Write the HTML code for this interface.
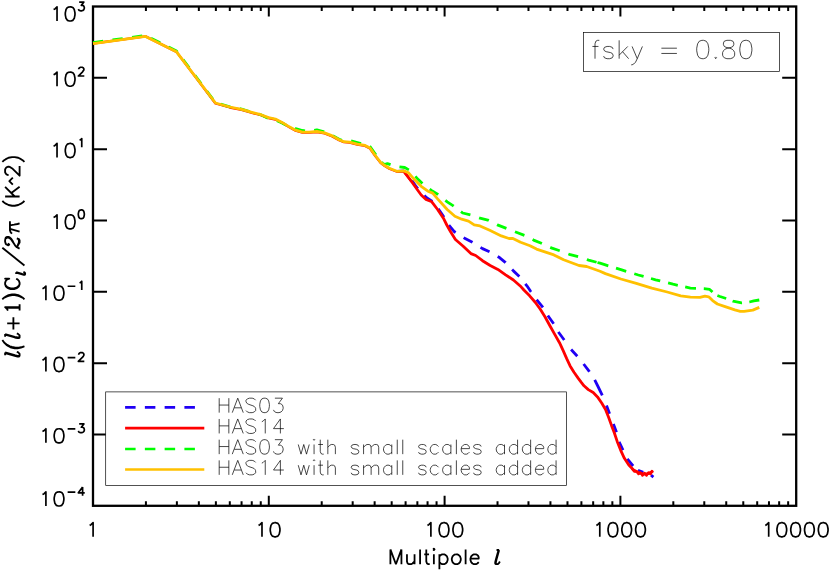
<!DOCTYPE html>
<html><head><meta charset="utf-8"><title>Power spectrum</title>
<style>html,body{margin:0;padding:0;background:#fff;overflow:hidden;width:830px;height:570px;font-family:"Liberation Sans",sans-serif}svg{display:block;position:absolute;left:0;top:0}</style></head>
<body>
<svg width="830" height="570" viewBox="0 0 830 570" role="img" aria-label="Power spectrum plot">
<rect width="830" height="570" fill="#fff"/>
<path d="M145.92 505.8v-4.6M145.92 6.5v4.6M176.88 505.8v-4.6M176.88 6.5v4.6M198.84 505.8v-4.6M198.84 6.5v4.6M215.88 505.8v-4.6M215.88 6.5v4.6M229.8 505.8v-4.6M229.8 6.5v4.6M241.57 505.8v-4.6M241.57 6.5v4.6M251.76 505.8v-4.6M251.76 6.5v4.6M260.76 505.8v-4.6M260.76 6.5v4.6M268.8 505.8v-10M268.8 6.5v10M321.72 505.8v-4.6M321.72 6.5v4.6M352.68 505.8v-4.6M352.68 6.5v4.6M374.64 505.8v-4.6M374.64 6.5v4.6M391.68 505.8v-4.6M391.68 6.5v4.6M405.6 505.8v-4.6M405.6 6.5v4.6M417.37 505.8v-4.6M417.37 6.5v4.6M427.56 505.8v-4.6M427.56 6.5v4.6M436.56 505.8v-4.6M436.56 6.5v4.6M444.6 505.8v-10M444.6 6.5v10M497.52 505.8v-4.6M497.52 6.5v4.6M528.48 505.8v-4.6M528.48 6.5v4.6M550.44 505.8v-4.6M550.44 6.5v4.6M567.48 505.8v-4.6M567.48 6.5v4.6M581.4 505.8v-4.6M581.4 6.5v4.6M593.17 505.8v-4.6M593.17 6.5v4.6M603.36 505.8v-4.6M603.36 6.5v4.6M612.36 505.8v-4.6M612.36 6.5v4.6M620.4 505.8v-10M620.4 6.5v10M673.32 505.8v-4.6M673.32 6.5v4.6M704.28 505.8v-4.6M704.28 6.5v4.6M726.24 505.8v-4.6M726.24 6.5v4.6M743.28 505.8v-4.6M743.28 6.5v4.6M757.2 505.8v-4.6M757.2 6.5v4.6M768.97 505.8v-4.6M768.97 6.5v4.6M779.16 505.8v-4.6M779.16 6.5v4.6M788.16 505.8v-4.6M788.16 6.5v4.6M93 77.83h14M796.2 77.83h-14M93 149.16h14M796.2 149.16h-14M93 220.49h14M796.2 220.49h-14M93 291.81h14M796.2 291.81h-14M93 363.14h14M796.2 363.14h-14M93 434.47h14M796.2 434.47h-14" stroke="#000" stroke-width="2" fill="none"/>
<rect x="93" y="6.5" width="703.2" height="499.3" fill="none" stroke="#000" stroke-width="2.3"/>
<path d="M397 171.3 L403.8 170.9 L411 179 L416 186.5 L421.5 193 L427 198 L432.5 201.5 L439.5 210.5 L443.4 216.3 L448.7 225 L454.5 231.8 L465.1 238.5 L471.9 242 L482.5 248.6 L490.2 252 L499.8 257.8 L505.6 262.6 L513.4 270.9 L520.1 277.1 L526.9 285.8 L530.6 291.2 L537.4 300.6 L543.65 308.3 L548.5 316.5 L554.75 325.2 L559.1 332.95 L564.8 340.8 L567.84 345" fill="none" stroke="#2000f4" stroke-width="2.8" stroke-linejoin="round" stroke-linecap="butt" stroke-dasharray="10 9.5"/>
<path d="M567.84 345 L571.1 349.5 L577.3 356.2 L583.6 364 L589.4 371.7 L594.7 379.9 L598.5 387.5 L602.3 395.4 L606.5 405.6 L609.6 413.8 L613.4 423.9 L616.5 432.2 L619.1 441.9 L623 450.1 L627.3 458.8 L633.1 466 L638 470.4 L643.3 472.3 L651 475.2 L653.4 477.1" fill="none" stroke="#2000f4" stroke-width="2.8" stroke-linejoin="round" stroke-linecap="butt" stroke-dasharray="0 5.56 9.13 10.03 9.64 9.76 17.26 11.03 8.77 10.79 8.86 10.04 9.08 9.7 9.25 6.59 5.63 8.23 3.06 50"/>
<path d="M93 43.55 L145.6 36.4 L176.5 51.85 L215.5 103.45 L229.8 107.45 L241.6 109.75 L251.2 112.65 L260.9 115.15 L268.6 118.05 L275.4 119.45 L282.1 122.85 L289.8 127.55 L295.6 130.65 L302.4 132.55 L309.2 132.55 L316.9 131.95 L324.6 133.35 L332.3 136.35 L339.1 140.25 L343.9 142.15 L349.7 142.55 L357.4 144.55 L365.1 145.85 L370 148.45 L375.3 155.95 L380.6 162.75 L384.4 165.75 L389.3 168.65 L397 171.75 L403.8 171.35 L411.5 181.5" fill="none" stroke="#ff0000" stroke-width="2.4" stroke-linejoin="round" stroke-linecap="butt"/>
<path d="M403.8 171.35 L411.5 181.5 L416.3 188.3 L421.2 195 L426 199.5 L431.8 201.8 L437.6 209.5 L443.4 218.2 L446.8 225 L450.6 231.8 L455.4 239.5 L463.2 246.2 L470.9 253.6 L475.7 255.5 L482.5 260.7 L490.2 265.5 L497.9 269.4 L505.6 274.8 L513.4 280 L521.1 286.8 L523.9 290 L529.65 295.8 L535.4 302.5 L540.3 309.3 L545.1 317 L549.9 325.7 L554.75 334.4 L559.5 342.7 L563.3 350.9 L566.7 358.65 L570.1 365.9 L574 372.2 L578.3 378.4 L581.3 382.4 L584 385.8 L588.3 389.65 L593.2 392.5 L597.5 396.9 L601.85 403.2 L605.7 409.9 L608.6 417.2 L611.5 425.4 L614.3 432.7 L617.2 441.4 L620.6 450.1 L624.4 458.3 L628.8 465.1 L633.6 469.9 L638.9 472.8 L644.2 474.2 L648.1 473.7 L652.9 471.3" fill="none" stroke="#ff0000" stroke-width="2.8" stroke-linejoin="round" stroke-linecap="butt"/>
<path d="M632 468.8 L634.5 471.6 L636.5 471.2 L638.5 474 L640.5 472.4 L642.5 475.6 L644.5 473 L646.5 475.6 L648.5 472.4 L650.5 474.2 L652 471 L653 472.3" fill="none" stroke="#ff0000" stroke-width="2.4" stroke-linejoin="round" stroke-linecap="butt"/>
<path d="M93 42.6 L145.6 35.52 L176.5 51 L215.5 102.65 L229.8 106.8 L241.6 109.1 L251.2 112 L260.9 114.75 L268.6 118.5 L275.4 119.9 L282.1 122.97 L289.8 127.1 L295.6 128.6 L302.4 130.5 L309.2 131.6 L316.9 129.9 L324.6 131.89 L332.3 135.4 L339.1 139.3 L343.9 141.2 L349.7 140.61 L357.4 142.5 L365.1 144.9 L370 146.5 L375.3 154.11 L380.6 161.5 L383 163.39" fill="none" stroke="#00ff00" stroke-width="2.8" stroke-linejoin="round" stroke-linecap="butt" stroke-dasharray="10.3 9.4"/>
<path d="M383 163.39 L384.4 164.5 L387.4 163.6 L396 166.5 L404.7 167.5 L410 170.5 L418.3 179.6 L425 186 L431.8 190.6 L438 194.5 L447.2 201.8 L453 205.6 L462.7 213 L470.4 214.9 L480 218.2 L487.8 220.1 L497.4 224.9 L506.6 228.5 L516.3 232.3 L525 235.6 L533.6 240.1 L541.4 243.3 L552 248.2 L560.7 251.1 L569.3 254.3 L579 256.9 L588.6 260.1 L597.5 262.52" fill="none" stroke="#00ff00" stroke-width="2.8" stroke-linejoin="round" stroke-linecap="butt" stroke-dasharray="10.1 9.2" stroke-dashoffset="1.84"/>
<path d="M597.5 262.52 L600 263.2 L605.4 264.9 L620.9 269.7 L638.3 275 L655.6 279.8 L673 284.2 L690.4 288.1 L703.9 288.7 L709.7 289.4 L715.5 294.8 L720 296.5 L726.3 298.5 L733 301.1 L741.7 302.8 L749.4 302 L753.8 300.9 L759.3 300" fill="none" stroke="#00ff00" stroke-width="2.8" stroke-linejoin="round" stroke-linecap="butt" stroke-dasharray="11.29 8.06 10.67 8.47 9.68 7.68 9.52 8.15 9.97 7.58 10.93 7.81 9.77 6.13 9.28 6.86 9.6 7.44 10.11 50"/>
<path d="M93 43.55 L145.6 36.4 L176.5 51.85 L215.5 103 L229.8 107 L241.6 109.3 L251.2 112.2 L260.9 114.7 L268.6 117.6 L275.4 119 L282.1 122.4 L289.8 127.1 L295.6 130.2 L302.4 132.1 L309.2 132.1 L316.9 131.5 L324.6 132.9 L332.3 135.9 L339.1 139.8 L343.9 141.7 L349.7 142.1 L357.4 144.1 L365.1 145.4 L370 148 L375.3 155.5 L380.6 162.3 L384.4 165.3 L389.3 168.2 L397 171.3 L403.8 170.9 L408.6 172.8 L414.4 179.6 L421.2 186.3 L427.9 191.2 L432.7 193.1 L437.6 198.9 L447.2 209.5 L454.9 216.3 L461.7 219.2 L468.5 221.1 L474.2 224.9 L480 225.9 L489.7 230.3 L501.3 235.9 L509 238.5 L512.9 238.5 L520.6 242.3 L530 245.8 L536.5 249.1 L553.9 254.9 L563.6 259.7 L579 265.5 L586.7 266.5 L600 271.3 L605.4 273.6 L620.9 279 L636.3 283.3 L651.8 288.1 L667.2 292 L680.7 295.8 L690.4 297.2 L700 297.4 L704.9 296.2 L708.7 296.8 L712.6 300.6 L717.4 304 L725.1 306.6 L729.65 308.1 L734.8 309.9 L740.3 311.3 L744.1 311.3 L752.8 310.1 L759.3 307.4" fill="none" stroke="#ffc000" stroke-width="2.8" stroke-linejoin="round" stroke-linecap="butt"/>
<path transform="translate(92.4 536.8) translate(-6.9 0)" d="M4.14 -11.42L5.52 -12.1L7.59 -14.11L7.59 0" fill="none" stroke="#000" stroke-width="1.7" stroke-linejoin="round" stroke-linecap="butt"/>
<path transform="translate(268.2 536.8) translate(-13.8 0)" d="M4.14 -11.42L5.52 -12.1L7.59 -14.11L7.59 0M20.01 -14.11L17.94 -13.44L16.56 -11.42L15.87 -8.06L15.87 -6.05L16.56 -2.69L17.94 -0.67L20.01 0L21.39 0L23.46 -0.67L24.84 -2.69L25.53 -6.05L25.53 -8.06L24.84 -11.42L23.46 -13.44L21.39 -14.11L20.01 -14.11" fill="none" stroke="#000" stroke-width="1.7" stroke-linejoin="round" stroke-linecap="butt"/>
<path transform="translate(444 536.8) translate(-20.7 0)" d="M4.14 -11.42L5.52 -12.1L7.59 -14.11L7.59 0M20.01 -14.11L17.94 -13.44L16.56 -11.42L15.87 -8.06L15.87 -6.05L16.56 -2.69L17.94 -0.67L20.01 0L21.39 0L23.46 -0.67L24.84 -2.69L25.53 -6.05L25.53 -8.06L24.84 -11.42L23.46 -13.44L21.39 -14.11L20.01 -14.11M33.81 -14.11L31.74 -13.44L30.36 -11.42L29.67 -8.06L29.67 -6.05L30.36 -2.69L31.74 -0.67L33.81 0L35.19 0L37.26 -0.67L38.64 -2.69L39.33 -6.05L39.33 -8.06L38.64 -11.42L37.26 -13.44L35.19 -14.11L33.81 -14.11" fill="none" stroke="#000" stroke-width="1.7" stroke-linejoin="round" stroke-linecap="butt"/>
<path transform="translate(619.8 536.8) translate(-27.6 0)" d="M4.14 -11.42L5.52 -12.1L7.59 -14.11L7.59 0M20.01 -14.11L17.94 -13.44L16.56 -11.42L15.87 -8.06L15.87 -6.05L16.56 -2.69L17.94 -0.67L20.01 0L21.39 0L23.46 -0.67L24.84 -2.69L25.53 -6.05L25.53 -8.06L24.84 -11.42L23.46 -13.44L21.39 -14.11L20.01 -14.11M33.81 -14.11L31.74 -13.44L30.36 -11.42L29.67 -8.06L29.67 -6.05L30.36 -2.69L31.74 -0.67L33.81 0L35.19 0L37.26 -0.67L38.64 -2.69L39.33 -6.05L39.33 -8.06L38.64 -11.42L37.26 -13.44L35.19 -14.11L33.81 -14.11M47.61 -14.11L45.54 -13.44L44.16 -11.42L43.47 -8.06L43.47 -6.05L44.16 -2.69L45.54 -0.67L47.61 0L48.99 0L51.06 -0.67L52.44 -2.69L53.13 -6.05L53.13 -8.06L52.44 -11.42L51.06 -13.44L48.99 -14.11L47.61 -14.11" fill="none" stroke="#000" stroke-width="1.7" stroke-linejoin="round" stroke-linecap="butt"/>
<path transform="translate(795.6 536.8) translate(-34.5 0)" d="M4.14 -11.42L5.52 -12.1L7.59 -14.11L7.59 0M20.01 -14.11L17.94 -13.44L16.56 -11.42L15.87 -8.06L15.87 -6.05L16.56 -2.69L17.94 -0.67L20.01 0L21.39 0L23.46 -0.67L24.84 -2.69L25.53 -6.05L25.53 -8.06L24.84 -11.42L23.46 -13.44L21.39 -14.11L20.01 -14.11M33.81 -14.11L31.74 -13.44L30.36 -11.42L29.67 -8.06L29.67 -6.05L30.36 -2.69L31.74 -0.67L33.81 0L35.19 0L37.26 -0.67L38.64 -2.69L39.33 -6.05L39.33 -8.06L38.64 -11.42L37.26 -13.44L35.19 -14.11L33.81 -14.11M47.61 -14.11L45.54 -13.44L44.16 -11.42L43.47 -8.06L43.47 -6.05L44.16 -2.69L45.54 -0.67L47.61 0L48.99 0L51.06 -0.67L52.44 -2.69L53.13 -6.05L53.13 -8.06L52.44 -11.42L51.06 -13.44L48.99 -14.11L47.61 -14.11M61.41 -14.11L59.34 -13.44L57.96 -11.42L57.27 -8.06L57.27 -6.05L57.96 -2.69L59.34 -0.67L61.41 0L62.79 0L64.86 -0.67L66.24 -2.69L66.93 -6.05L66.93 -8.06L66.24 -11.42L64.86 -13.44L62.79 -14.11L61.41 -14.11" fill="none" stroke="#000" stroke-width="1.7" stroke-linejoin="round" stroke-linecap="butt"/>
<path transform="translate(85.6 21) translate(-36.16 0)" d="M4.14 -11.42L5.52 -12.1L7.59 -14.11L7.59 0M20.01 -14.11L17.94 -13.44L16.56 -11.42L15.87 -8.06L15.87 -6.05L16.56 -2.69L17.94 -0.67L20.01 0L21.39 0L23.46 -0.67L24.84 -2.69L25.53 -6.05L25.53 -8.06L24.84 -11.42L23.46 -13.44L21.39 -14.11L20.01 -14.11M29.74 -18.96L34.44 -18.96L31.88 -15.63L33.16 -15.63L34.02 -15.21L34.44 -14.8L34.87 -13.55L34.87 -12.71L34.44 -11.46L33.59 -10.63L32.31 -10.21L31.02 -10.21L29.74 -10.63L29.31 -11.05L28.88 -11.88" fill="none" stroke="#000" stroke-width="1.7" stroke-linejoin="round" stroke-linecap="butt"/>
<path transform="translate(85.6 86.23) translate(-36.16 0)" d="M4.14 -11.42L5.52 -12.1L7.59 -14.11L7.59 0M20.01 -14.11L17.94 -13.44L16.56 -11.42L15.87 -8.06L15.87 -6.05L16.56 -2.69L17.94 -0.67L20.01 0L21.39 0L23.46 -0.67L24.84 -2.69L25.53 -6.05L25.53 -8.06L24.84 -11.42L23.46 -13.44L21.39 -14.11L20.01 -14.11M29.31 -16.88L29.31 -17.3L29.74 -18.13L30.17 -18.55L31.02 -18.96L32.73 -18.96L33.59 -18.55L34.02 -18.13L34.44 -17.3L34.44 -16.46L34.02 -15.63L33.16 -14.38L28.88 -10.21L34.87 -10.21" fill="none" stroke="#000" stroke-width="1.7" stroke-linejoin="round" stroke-linecap="butt"/>
<path transform="translate(85.6 157.56) translate(-36.16 0)" d="M4.14 -11.42L5.52 -12.1L7.59 -14.11L7.59 0M20.01 -14.11L17.94 -13.44L16.56 -11.42L15.87 -8.06L15.87 -6.05L16.56 -2.69L17.94 -0.67L20.01 0L21.39 0L23.46 -0.67L24.84 -2.69L25.53 -6.05L25.53 -8.06L24.84 -11.42L23.46 -13.44L21.39 -14.11L20.01 -14.11M30.17 -17.3L31.02 -17.71L32.31 -18.96L32.31 -10.21" fill="none" stroke="#000" stroke-width="1.7" stroke-linejoin="round" stroke-linecap="butt"/>
<path transform="translate(85.6 228.89) translate(-36.16 0)" d="M4.14 -11.42L5.52 -12.1L7.59 -14.11L7.59 0M20.01 -14.11L17.94 -13.44L16.56 -11.42L15.87 -8.06L15.87 -6.05L16.56 -2.69L17.94 -0.67L20.01 0L21.39 0L23.46 -0.67L24.84 -2.69L25.53 -6.05L25.53 -8.06L24.84 -11.42L23.46 -13.44L21.39 -14.11L20.01 -14.11M31.45 -18.96L30.17 -18.55L29.31 -17.3L28.88 -15.21L28.88 -13.96L29.31 -11.88L30.17 -10.63L31.45 -10.21L32.31 -10.21L33.59 -10.63L34.44 -11.88L34.87 -13.96L34.87 -15.21L34.44 -17.3L33.59 -18.55L32.31 -18.96L31.45 -18.96" fill="none" stroke="#000" stroke-width="1.7" stroke-linejoin="round" stroke-linecap="butt"/>
<path transform="translate(85.6 300.21) translate(-47.28 0)" d="M4.14 -11.42L5.52 -12.1L7.59 -14.11L7.59 0M20.01 -14.11L17.94 -13.44L16.56 -11.42L15.87 -8.06L15.87 -6.05L16.56 -2.69L17.94 -0.67L20.01 0L21.39 0L23.46 -0.67L24.84 -2.69L25.53 -6.05L25.53 -8.06L24.84 -11.42L23.46 -13.44L21.39 -14.11L20.01 -14.11M29.31 -13.96L37.01 -13.96M41.29 -17.3L42.15 -17.71L43.43 -18.96L43.43 -10.21" fill="none" stroke="#000" stroke-width="1.7" stroke-linejoin="round" stroke-linecap="butt"/>
<path transform="translate(85.6 371.54) translate(-47.28 0)" d="M4.14 -11.42L5.52 -12.1L7.59 -14.11L7.59 0M20.01 -14.11L17.94 -13.44L16.56 -11.42L15.87 -8.06L15.87 -6.05L16.56 -2.69L17.94 -0.67L20.01 0L21.39 0L23.46 -0.67L24.84 -2.69L25.53 -6.05L25.53 -8.06L24.84 -11.42L23.46 -13.44L21.39 -14.11L20.01 -14.11M29.31 -13.96L37.01 -13.96M40.43 -16.88L40.43 -17.3L40.86 -18.13L41.29 -18.55L42.15 -18.96L43.86 -18.96L44.71 -18.55L45.14 -18.13L45.57 -17.3L45.57 -16.46L45.14 -15.63L44.28 -14.38L40.01 -10.21L46 -10.21" fill="none" stroke="#000" stroke-width="1.7" stroke-linejoin="round" stroke-linecap="butt"/>
<path transform="translate(85.6 442.87) translate(-47.28 0)" d="M4.14 -11.42L5.52 -12.1L7.59 -14.11L7.59 0M20.01 -14.11L17.94 -13.44L16.56 -11.42L15.87 -8.06L15.87 -6.05L16.56 -2.69L17.94 -0.67L20.01 0L21.39 0L23.46 -0.67L24.84 -2.69L25.53 -6.05L25.53 -8.06L24.84 -11.42L23.46 -13.44L21.39 -14.11L20.01 -14.11M29.31 -13.96L37.01 -13.96M40.86 -18.96L45.57 -18.96L43 -15.63L44.28 -15.63L45.14 -15.21L45.57 -14.8L46 -13.55L46 -12.71L45.57 -11.46L44.71 -10.63L43.43 -10.21L42.15 -10.21L40.86 -10.63L40.43 -11.05L40.01 -11.88" fill="none" stroke="#000" stroke-width="1.7" stroke-linejoin="round" stroke-linecap="butt"/>
<path transform="translate(85.6 506) translate(-47.28 0)" d="M4.14 -11.42L5.52 -12.1L7.59 -14.11L7.59 0M20.01 -14.11L17.94 -13.44L16.56 -11.42L15.87 -8.06L15.87 -6.05L16.56 -2.69L17.94 -0.67L20.01 0L21.39 0L23.46 -0.67L24.84 -2.69L25.53 -6.05L25.53 -8.06L24.84 -11.42L23.46 -13.44L21.39 -14.11L20.01 -14.11M29.31 -13.96L37.01 -13.96M44.28 -18.96L40.01 -13.13L46.42 -13.13M44.28 -18.96L44.28 -10.21" fill="none" stroke="#000" stroke-width="1.7" stroke-linejoin="round" stroke-linecap="butt"/>
<path transform="translate(444.4 564.2) translate(-56.76 0)" d="M2.76 -14.8L2.76 0M2.76 -14.8L8.28 0M13.8 -14.8L8.28 0M13.8 -14.8L13.8 0M19.32 -9.87L19.32 -2.82L20.01 -0.7L21.39 0L23.46 0L24.84 -0.7L26.91 -2.82M26.91 -9.87L26.91 0M32.43 -14.8L32.43 0M38.64 -14.8L38.64 -2.82L39.33 -0.7L40.71 0L42.09 0M36.57 -9.87L41.4 -9.87M45.54 -14.8L46.23 -14.1L46.92 -14.8L46.23 -15.51L45.54 -14.8M46.23 -9.87L46.23 0M51.75 -9.87L51.75 4.93M51.75 -7.75L53.13 -9.16L54.51 -9.87L56.58 -9.87L57.96 -9.16L59.34 -7.75L60.03 -5.64L60.03 -4.23L59.34 -2.11L57.96 -0.7L56.58 0L54.51 0L53.13 -0.7L51.75 -2.11M67.62 -9.87L66.24 -9.16L64.86 -7.75L64.17 -5.64L64.17 -4.23L64.86 -2.11L66.24 -0.7L67.62 0L69.69 0L71.07 -0.7L72.45 -2.11L73.14 -4.23L73.14 -5.64L72.45 -7.75L71.07 -9.16L69.69 -9.87L67.62 -9.87M77.97 -14.8L77.97 0M82.8 -5.64L91.08 -5.64L91.08 -7.05L90.39 -8.46L89.7 -9.16L88.32 -9.87L86.25 -9.87L84.87 -9.16L83.49 -7.75L82.8 -5.64L82.8 -4.23L83.49 -2.11L84.87 -0.7L86.25 0L88.32 0L89.7 -0.7L91.08 -2.11M110.87 -14.21L108.22 -4.74L107.56 -2.03L107.56 -0.68L108.22 0L110.21 0L111.53 -1.35L112.19 -2.71M111.53 -14.21L108.88 -4.74L108.22 -2.03L108.22 -0.68L108.88 0M108.88 -14.21L111.53 -14.21" fill="none" stroke="#000" stroke-width="1.8" stroke-linejoin="round" stroke-linecap="butt"/>
<path transform="translate(19.6 358.63) rotate(-90) translate(0 0)" d="M5.52 -14.49L2.76 -4.83L2.07 -2.07L2.07 -0.69L2.76 0L4.83 0L6.21 -1.38L6.9 -2.76M6.21 -14.49L3.45 -4.83L2.76 -2.07L2.76 -0.69L3.45 0M3.45 -14.49L6.21 -14.49" fill="none" stroke="#000" stroke-width="1.85" stroke-linejoin="round" stroke-linecap="butt"/>
<path transform="translate(19.6 350.41) rotate(-90) translate(0 0)" d="M10.35 -17.25L7.59 -15.18L5.52 -13.11L4.14 -11.04L2.76 -8.28L2.07 -4.83L2.07 -2.07L2.76 1.38L3.45 3.45L4.14 4.83M7.59 -15.18L5.52 -12.42L4.14 -9.66L3.45 -7.59L2.76 -4.14L2.76 -0.69L3.45 2.76L4.14 4.83" fill="none" stroke="#000" stroke-width="1.85" stroke-linejoin="round" stroke-linecap="butt"/>
<path transform="translate(19.6 340.24) rotate(-90) translate(0 0)" d="M5.52 -14.49L2.76 -4.83L2.07 -2.07L2.07 -0.69L2.76 0L4.83 0L6.21 -1.38L6.9 -2.76M6.21 -14.49L3.45 -4.83L2.76 -2.07L2.76 -0.69L3.45 0M3.45 -14.49L6.21 -14.49" fill="none" stroke="#000" stroke-width="1.85" stroke-linejoin="round" stroke-linecap="butt"/>
<path transform="translate(19.6 332.37) rotate(-90) translate(0 0)" d="M8.97 -12.42L8.97 0M2.76 -6.21L15.18 -6.21" fill="none" stroke="#000" stroke-width="1.85" stroke-linejoin="round" stroke-linecap="butt"/>
<path transform="translate(19.6 314.69) rotate(-90) translate(0 0)" d="M4.14 -11.73L5.52 -12.42L7.59 -14.49L7.59 0M6.9 -13.8L6.9 0M4.14 0L10.35 0" fill="none" stroke="#000" stroke-width="1.85" stroke-linejoin="round" stroke-linecap="butt"/>
<path transform="translate(19.6 301.38) rotate(-90) translate(0 0)" d="M2.07 -17.25L3.45 -15.87L4.83 -13.8L6.21 -11.04L6.9 -7.59L6.9 -4.83L6.21 -1.38L4.83 1.38L3.45 3.45L2.07 4.83M3.45 -15.87L4.83 -13.11L5.52 -11.04L6.21 -7.59L6.21 -4.83L5.52 -1.38L4.83 0.69L3.45 3.45" fill="none" stroke="#000" stroke-width="1.85" stroke-linejoin="round" stroke-linecap="butt"/>
<path transform="translate(19.6 291.14) rotate(-90) translate(0 0)" d="M11.73 -12.42L12.42 -10.35L12.42 -14.49L11.73 -12.42L10.35 -13.8L8.28 -14.49L6.9 -14.49L4.83 -13.8L3.45 -12.42L2.76 -11.04L2.07 -8.97L2.07 -5.52L2.76 -3.45L3.45 -2.07L4.83 -0.69L6.9 0L8.28 0L10.35 -0.69L11.73 -2.07L12.42 -3.45M6.9 -14.49L5.52 -13.8L4.14 -12.42L3.45 -11.04L2.76 -8.97L2.76 -5.52L3.45 -3.45L4.14 -2.07L5.52 -0.69L6.9 0" fill="none" stroke="#000" stroke-width="1.85" stroke-linejoin="round" stroke-linecap="butt"/>
<path transform="translate(19.6 276.08) rotate(-90) translate(0 0)" d="M3.42 -3.46L1.71 2.53L1.28 4.24L1.28 5.09L1.71 5.52L2.99 5.52L3.85 4.66L4.28 3.81M3.85 -3.46L2.14 2.53L1.71 4.24L1.71 5.09L2.14 5.52M2.14 -3.46L3.85 -3.46" fill="none" stroke="#000" stroke-width="1.85" stroke-linejoin="round" stroke-linecap="butt"/>
<path transform="translate(19.6 266.26) rotate(-90) translate(0 0)" d="M0.83 4.83L18.49 -17.25" fill="none" stroke="#000" stroke-width="1.85" stroke-linejoin="round" stroke-linecap="butt"/>
<path transform="translate(19.6 249.36) rotate(-90) translate(0 0)" d="M4.83 -11.73L5.52 -11.04L4.83 -10.35L4.14 -11.04L4.14 -11.73L4.83 -13.11L5.52 -13.8L7.59 -14.49L9.66 -14.49L11.73 -13.8L12.42 -12.42L12.42 -11.04L11.73 -9.66L10.35 -8.28L8.28 -6.9L5.52 -5.52L3.45 -4.14L2.07 -2.76L0.69 0M9.66 -14.49L11.04 -13.8L11.73 -12.42L11.73 -11.04L11.04 -9.66L9.66 -8.28L5.52 -5.52M1.38 -1.38L2.07 -2.07L3.45 -2.07L6.9 -0.69L8.97 -0.69L10.35 -1.38L11.04 -2.76M3.45 -2.07L6.9 0L8.97 0L10.35 -0.69L11.04 -2.76" fill="none" stroke="#000" stroke-width="1.85" stroke-linejoin="round" stroke-linecap="butt"/>
<path transform="translate(19.6 235.04) rotate(-90) translate(0 0)" d="M6.21 -9.66L3.45 0M9.66 -9.66L10.35 -5.52L11.04 -2.07L11.73 0M1.38 -7.59L2.76 -8.97L4.83 -9.66L13.8 -9.66" fill="none" stroke="#000" stroke-width="1.85" stroke-linejoin="round" stroke-linecap="butt"/>
<path transform="translate(19.6 208.48) rotate(-90) translate(0 0)" d="M7.59 -17.25L6.21 -15.87L4.83 -13.8L3.45 -11.04L2.76 -7.59L2.76 -4.83L3.45 -1.38L4.83 1.38L6.21 3.45L7.59 4.83" fill="none" stroke="#000" stroke-width="1.85" stroke-linejoin="round" stroke-linecap="butt"/>
<path transform="translate(19.6 199.24) rotate(-90) translate(0 0)" d="M2.76 -14.49L2.76 0M12.42 -14.49L2.76 -4.83M6.21 -8.28L12.42 0" fill="none" stroke="#000" stroke-width="1.85" stroke-linejoin="round" stroke-linecap="butt"/>
<path transform="translate(19.6 184.55) rotate(-90) translate(0 0)" d="M-0.07 -6.76L3.45 -10.28L6.97 -6.76" fill="none" stroke="#000" stroke-width="1.85" stroke-linejoin="round" stroke-linecap="butt"/>
<path transform="translate(19.6 177.75) rotate(-90) translate(0 0)" d="M2.76 -11.04L2.76 -11.73L3.45 -13.11L4.14 -13.8L5.52 -14.49L8.28 -14.49L9.66 -13.8L10.35 -13.11L11.04 -11.73L11.04 -10.35L10.35 -8.97L8.97 -6.9L2.07 0L11.73 0" fill="none" stroke="#000" stroke-width="1.85" stroke-linejoin="round" stroke-linecap="butt"/>
<path transform="translate(19.6 163.99) rotate(-90) translate(0 0)" d="M2.07 -17.25L3.45 -15.87L4.83 -13.8L6.21 -11.04L6.9 -7.59L6.9 -4.83L6.21 -1.38L4.83 1.38L3.45 3.45L2.07 4.83" fill="none" stroke="#000" stroke-width="1.85" stroke-linejoin="round" stroke-linecap="butt"/>
<rect x="583.5" y="32.5" width="196.1" height="38.95" fill="none" stroke="#000" stroke-width="0.68"/>
<path transform="translate(590.7 58.7) translate(0 0)" d="M8.62 -18.38L6.9 -18.38L5.17 -17.5L4.31 -14.88L4.31 0M1.72 -12.25L7.76 -12.25M22.41 -9.62L21.55 -11.38L18.96 -12.25L16.38 -12.25L13.79 -11.38L12.93 -9.62L13.79 -7.88L15.52 -7L19.83 -6.12L21.55 -5.25L22.41 -3.5L22.41 -2.62L21.55 -0.88L18.96 0L16.38 0L13.79 -0.88L12.93 -2.62M28.45 -18.38L28.45 0M37.07 -12.25L28.45 -3.5M31.89 -7L37.93 0M41.38 -12.25L46.55 0M51.72 -12.25L46.55 0L44.82 3.5L43.1 5.25L41.38 6.12L40.51 6.12M70.68 -10.5L86.2 -10.5M70.68 -5.25L86.2 -5.25M111.2 -18.38L108.61 -17.5L106.89 -14.88L106.03 -10.5L106.03 -7.88L106.89 -3.5L108.61 -0.88L111.2 0L112.92 0L115.51 -0.88L117.23 -3.5L118.09 -7.88L118.09 -10.5L117.23 -14.88L115.51 -17.5L112.92 -18.38L111.2 -18.38M124.99 -1.75L124.13 -0.88L124.99 0L125.85 -0.88L124.99 -1.75M136.2 -18.38L133.61 -17.5L132.75 -15.75L132.75 -14L133.61 -12.25L135.33 -11.38L138.78 -10.5L141.37 -9.62L143.09 -7.88L143.95 -6.12L143.95 -3.5L143.09 -1.75L142.23 -0.88L139.64 0L136.2 0L133.61 -0.88L132.75 -1.75L131.89 -3.5L131.89 -6.12L132.75 -7.88L134.47 -9.62L137.06 -10.5L140.51 -11.38L142.23 -12.25L143.09 -14L143.09 -15.75L142.23 -17.5L139.64 -18.38L136.2 -18.38M154.3 -18.38L151.71 -17.5L149.99 -14.88L149.13 -10.5L149.13 -7.88L149.99 -3.5L151.71 -0.88L154.3 0L156.02 0L158.61 -0.88L160.33 -3.5L161.19 -7.88L161.19 -10.5L160.33 -14.88L158.61 -17.5L156.02 -18.38L154.3 -18.38" fill="none" stroke="#000" stroke-width="0.72" stroke-linejoin="round" stroke-linecap="butt"/>
<rect x="105.7" y="391.9" width="460.75" height="93.5" fill="#fff" stroke="#000" stroke-width="0.68"/>
<path d="M125.1 407.4H203.7" stroke="#2000f4" stroke-width="2.7" fill="none" stroke-dasharray="10.5 9.27"/>
<path transform="translate(216.45 412.65) translate(0 0)" d="M2.75 -14.49L2.75 0M12.38 -14.49L12.38 0M2.75 -7.59L12.38 -7.59M21.31 -14.49L15.81 0M21.31 -14.49L26.81 0M17.88 -4.83L24.75 -4.83M39.19 -12.42L37.81 -13.8L35.75 -14.49L33 -14.49L30.94 -13.8L29.56 -12.42L29.56 -11.04L30.25 -9.66L30.94 -8.97L32.31 -8.28L36.44 -6.9L37.81 -6.21L38.5 -5.52L39.19 -4.14L39.19 -2.07L37.81 -0.69L35.75 0L33 0L30.94 -0.69L29.56 -2.07M47.44 -14.49L45.38 -13.8L44 -11.73L43.31 -8.28L43.31 -6.21L44 -2.76L45.38 -0.69L47.44 0L48.81 0L50.88 -0.69L52.25 -2.76L52.94 -6.21L52.94 -8.28L52.25 -11.73L50.88 -13.8L48.81 -14.49L47.44 -14.49M58.44 -14.49L66 -14.49L61.88 -8.97L63.94 -8.97L65.31 -8.28L66 -7.59L66.69 -5.52L66.69 -4.14L66 -2.07L64.62 -0.69L62.56 0L60.5 0L58.44 -0.69L57.75 -1.38L57.06 -2.76" fill="none" stroke="#000" stroke-width="0.72" stroke-linejoin="round" stroke-linecap="butt"/>
<path d="M125.1 428.2H204.3" stroke="#ff0000" stroke-width="2.7" fill="none"/>
<path transform="translate(216.45 433.45) translate(0 0)" d="M2.75 -14.49L2.75 0M12.38 -14.49L12.38 0M2.75 -7.59L12.38 -7.59M21.31 -14.49L15.81 0M21.31 -14.49L26.81 0M17.88 -4.83L24.75 -4.83M39.19 -12.42L37.81 -13.8L35.75 -14.49L33 -14.49L30.94 -13.8L29.56 -12.42L29.56 -11.04L30.25 -9.66L30.94 -8.97L32.31 -8.28L36.44 -6.9L37.81 -6.21L38.5 -5.52L39.19 -4.14L39.19 -2.07L37.81 -0.69L35.75 0L33 0L30.94 -0.69L29.56 -2.07M45.38 -11.73L46.75 -12.42L48.81 -14.49L48.81 0M63.94 -14.49L57.06 -4.83L67.38 -4.83M63.94 -14.49L63.94 0" fill="none" stroke="#000" stroke-width="0.72" stroke-linejoin="round" stroke-linecap="butt"/>
<path d="M125.1 449H203.7" stroke="#00ff00" stroke-width="2.7" fill="none" stroke-dasharray="10.5 9.27"/>
<path transform="translate(216.45 454.15) translate(0 0)" d="M2.75 -14.49L2.75 0M12.38 -14.49L12.38 0M2.75 -7.59L12.38 -7.59M21.31 -14.49L15.81 0M21.31 -14.49L26.81 0M17.88 -4.83L24.75 -4.83M39.19 -12.42L37.81 -13.8L35.75 -14.49L33 -14.49L30.94 -13.8L29.56 -12.42L29.56 -11.04L30.25 -9.66L30.94 -8.97L32.31 -8.28L36.44 -6.9L37.81 -6.21L38.5 -5.52L39.19 -4.14L39.19 -2.07L37.81 -0.69L35.75 0L33 0L30.94 -0.69L29.56 -2.07M47.44 -14.49L45.38 -13.8L44 -11.73L43.31 -8.28L43.31 -6.21L44 -2.76L45.38 -0.69L47.44 0L48.81 0L50.88 -0.69L52.25 -2.76L52.94 -6.21L52.94 -8.28L52.25 -11.73L50.88 -13.8L48.81 -14.49L47.44 -14.49M58.44 -14.49L66 -14.49L61.88 -8.97L63.94 -8.97L65.31 -8.28L66 -7.59L66.69 -5.52L66.69 -4.14L66 -2.07L64.62 -0.69L62.56 0L60.5 0L58.44 -0.69L57.75 -1.38L57.06 -2.76M81.81 -9.66L84.56 0M87.31 -9.66L84.56 0M87.31 -9.66L90.06 0M92.81 -9.66L90.06 0M96.94 -14.49L97.62 -13.8L98.31 -14.49L97.62 -15.18L96.94 -14.49M97.62 -9.66L97.62 0M103.81 -14.49L103.81 -2.76L104.5 -0.69L105.88 0L107.25 0M101.75 -9.66L106.56 -9.66M111.38 -14.49L111.38 0M111.38 -6.9L113.44 -8.97L114.81 -9.66L116.88 -9.66L118.25 -8.97L118.94 -6.9L118.94 0M142.31 -7.59L141.62 -8.97L139.56 -9.66L137.5 -9.66L135.44 -8.97L134.75 -7.59L135.44 -6.21L136.81 -5.52L140.25 -4.83L141.62 -4.14L142.31 -2.76L142.31 -2.07L141.62 -0.69L139.56 0L137.5 0L135.44 -0.69L134.75 -2.07M147.12 -9.66L147.12 0M147.12 -6.9L149.19 -8.97L150.56 -9.66L152.62 -9.66L154 -8.97L154.69 -6.9L154.69 0M154.69 -6.9L156.75 -8.97L158.12 -9.66L160.19 -9.66L161.56 -8.97L162.25 -6.9L162.25 0M175.31 -9.66L175.31 0M175.31 -7.59L173.94 -8.97L172.56 -9.66L170.5 -9.66L169.12 -8.97L167.75 -7.59L167.06 -5.52L167.06 -4.14L167.75 -2.07L169.12 -0.69L170.5 0L172.56 0L173.94 -0.69L175.31 -2.07M180.81 -14.49L180.81 0M186.31 -14.49L186.31 0M209.69 -7.59L209 -8.97L206.94 -9.66L204.88 -9.66L202.81 -8.97L202.12 -7.59L202.81 -6.21L204.19 -5.52L207.62 -4.83L209 -4.14L209.69 -2.76L209.69 -2.07L209 -0.69L206.94 0L204.88 0L202.81 -0.69L202.12 -2.07M222.06 -7.59L220.69 -8.97L219.31 -9.66L217.25 -9.66L215.88 -8.97L214.5 -7.59L213.81 -5.52L213.81 -4.14L214.5 -2.07L215.88 -0.69L217.25 0L219.31 0L220.69 -0.69L222.06 -2.07M234.44 -9.66L234.44 0M234.44 -7.59L233.06 -8.97L231.69 -9.66L229.62 -9.66L228.25 -8.97L226.88 -7.59L226.19 -5.52L226.19 -4.14L226.88 -2.07L228.25 -0.69L229.62 0L231.69 0L233.06 -0.69L234.44 -2.07M239.94 -14.49L239.94 0M244.75 -5.52L253 -5.52L253 -6.9L252.31 -8.28L251.62 -8.97L250.25 -9.66L248.19 -9.66L246.81 -8.97L245.44 -7.59L244.75 -5.52L244.75 -4.14L245.44 -2.07L246.81 -0.69L248.19 0L250.25 0L251.62 -0.69L253 -2.07M264.69 -7.59L264 -8.97L261.94 -9.66L259.88 -9.66L257.81 -8.97L257.12 -7.59L257.81 -6.21L259.19 -5.52L262.62 -4.83L264 -4.14L264.69 -2.76L264.69 -2.07L264 -0.69L261.94 0L259.88 0L257.81 -0.69L257.12 -2.07M288.06 -9.66L288.06 0M288.06 -7.59L286.69 -8.97L285.31 -9.66L283.25 -9.66L281.88 -8.97L280.5 -7.59L279.81 -5.52L279.81 -4.14L280.5 -2.07L281.88 -0.69L283.25 0L285.31 0L286.69 -0.69L288.06 -2.07M301.12 -14.49L301.12 0M301.12 -7.59L299.75 -8.97L298.38 -9.66L296.31 -9.66L294.94 -8.97L293.56 -7.59L292.88 -5.52L292.88 -4.14L293.56 -2.07L294.94 -0.69L296.31 0L298.38 0L299.75 -0.69L301.12 -2.07M314.19 -14.49L314.19 0M314.19 -7.59L312.81 -8.97L311.44 -9.66L309.38 -9.66L308 -8.97L306.62 -7.59L305.94 -5.52L305.94 -4.14L306.62 -2.07L308 -0.69L309.38 0L311.44 0L312.81 -0.69L314.19 -2.07M319 -5.52L327.25 -5.52L327.25 -6.9L326.56 -8.28L325.88 -8.97L324.5 -9.66L322.44 -9.66L321.06 -8.97L319.69 -7.59L319 -5.52L319 -4.14L319.69 -2.07L321.06 -0.69L322.44 0L324.5 0L325.88 -0.69L327.25 -2.07M339.62 -14.49L339.62 0M339.62 -7.59L338.25 -8.97L336.88 -9.66L334.81 -9.66L333.44 -8.97L332.06 -7.59L331.38 -5.52L331.38 -4.14L332.06 -2.07L333.44 -0.69L334.81 0L336.88 0L338.25 -0.69L339.62 -2.07" fill="none" stroke="#000" stroke-width="0.72" stroke-linejoin="round" stroke-linecap="butt"/>
<path d="M125.1 469.5H204.3" stroke="#ffc000" stroke-width="2.7" fill="none"/>
<path transform="translate(216.45 474.85) translate(0 0)" d="M2.75 -14.49L2.75 0M12.38 -14.49L12.38 0M2.75 -7.59L12.38 -7.59M21.31 -14.49L15.81 0M21.31 -14.49L26.81 0M17.88 -4.83L24.75 -4.83M39.19 -12.42L37.81 -13.8L35.75 -14.49L33 -14.49L30.94 -13.8L29.56 -12.42L29.56 -11.04L30.25 -9.66L30.94 -8.97L32.31 -8.28L36.44 -6.9L37.81 -6.21L38.5 -5.52L39.19 -4.14L39.19 -2.07L37.81 -0.69L35.75 0L33 0L30.94 -0.69L29.56 -2.07M45.38 -11.73L46.75 -12.42L48.81 -14.49L48.81 0M63.94 -14.49L57.06 -4.83L67.38 -4.83M63.94 -14.49L63.94 0M81.81 -9.66L84.56 0M87.31 -9.66L84.56 0M87.31 -9.66L90.06 0M92.81 -9.66L90.06 0M96.94 -14.49L97.62 -13.8L98.31 -14.49L97.62 -15.18L96.94 -14.49M97.62 -9.66L97.62 0M103.81 -14.49L103.81 -2.76L104.5 -0.69L105.88 0L107.25 0M101.75 -9.66L106.56 -9.66M111.38 -14.49L111.38 0M111.38 -6.9L113.44 -8.97L114.81 -9.66L116.88 -9.66L118.25 -8.97L118.94 -6.9L118.94 0M142.31 -7.59L141.62 -8.97L139.56 -9.66L137.5 -9.66L135.44 -8.97L134.75 -7.59L135.44 -6.21L136.81 -5.52L140.25 -4.83L141.62 -4.14L142.31 -2.76L142.31 -2.07L141.62 -0.69L139.56 0L137.5 0L135.44 -0.69L134.75 -2.07M147.12 -9.66L147.12 0M147.12 -6.9L149.19 -8.97L150.56 -9.66L152.62 -9.66L154 -8.97L154.69 -6.9L154.69 0M154.69 -6.9L156.75 -8.97L158.12 -9.66L160.19 -9.66L161.56 -8.97L162.25 -6.9L162.25 0M175.31 -9.66L175.31 0M175.31 -7.59L173.94 -8.97L172.56 -9.66L170.5 -9.66L169.12 -8.97L167.75 -7.59L167.06 -5.52L167.06 -4.14L167.75 -2.07L169.12 -0.69L170.5 0L172.56 0L173.94 -0.69L175.31 -2.07M180.81 -14.49L180.81 0M186.31 -14.49L186.31 0M209.69 -7.59L209 -8.97L206.94 -9.66L204.88 -9.66L202.81 -8.97L202.12 -7.59L202.81 -6.21L204.19 -5.52L207.62 -4.83L209 -4.14L209.69 -2.76L209.69 -2.07L209 -0.69L206.94 0L204.88 0L202.81 -0.69L202.12 -2.07M222.06 -7.59L220.69 -8.97L219.31 -9.66L217.25 -9.66L215.88 -8.97L214.5 -7.59L213.81 -5.52L213.81 -4.14L214.5 -2.07L215.88 -0.69L217.25 0L219.31 0L220.69 -0.69L222.06 -2.07M234.44 -9.66L234.44 0M234.44 -7.59L233.06 -8.97L231.69 -9.66L229.62 -9.66L228.25 -8.97L226.88 -7.59L226.19 -5.52L226.19 -4.14L226.88 -2.07L228.25 -0.69L229.62 0L231.69 0L233.06 -0.69L234.44 -2.07M239.94 -14.49L239.94 0M244.75 -5.52L253 -5.52L253 -6.9L252.31 -8.28L251.62 -8.97L250.25 -9.66L248.19 -9.66L246.81 -8.97L245.44 -7.59L244.75 -5.52L244.75 -4.14L245.44 -2.07L246.81 -0.69L248.19 0L250.25 0L251.62 -0.69L253 -2.07M264.69 -7.59L264 -8.97L261.94 -9.66L259.88 -9.66L257.81 -8.97L257.12 -7.59L257.81 -6.21L259.19 -5.52L262.62 -4.83L264 -4.14L264.69 -2.76L264.69 -2.07L264 -0.69L261.94 0L259.88 0L257.81 -0.69L257.12 -2.07M288.06 -9.66L288.06 0M288.06 -7.59L286.69 -8.97L285.31 -9.66L283.25 -9.66L281.88 -8.97L280.5 -7.59L279.81 -5.52L279.81 -4.14L280.5 -2.07L281.88 -0.69L283.25 0L285.31 0L286.69 -0.69L288.06 -2.07M301.12 -14.49L301.12 0M301.12 -7.59L299.75 -8.97L298.38 -9.66L296.31 -9.66L294.94 -8.97L293.56 -7.59L292.88 -5.52L292.88 -4.14L293.56 -2.07L294.94 -0.69L296.31 0L298.38 0L299.75 -0.69L301.12 -2.07M314.19 -14.49L314.19 0M314.19 -7.59L312.81 -8.97L311.44 -9.66L309.38 -9.66L308 -8.97L306.62 -7.59L305.94 -5.52L305.94 -4.14L306.62 -2.07L308 -0.69L309.38 0L311.44 0L312.81 -0.69L314.19 -2.07M319 -5.52L327.25 -5.52L327.25 -6.9L326.56 -8.28L325.88 -8.97L324.5 -9.66L322.44 -9.66L321.06 -8.97L319.69 -7.59L319 -5.52L319 -4.14L319.69 -2.07L321.06 -0.69L322.44 0L324.5 0L325.88 -0.69L327.25 -2.07M339.62 -14.49L339.62 0M339.62 -7.59L338.25 -8.97L336.88 -9.66L334.81 -9.66L333.44 -8.97L332.06 -7.59L331.38 -5.52L331.38 -4.14L332.06 -2.07L333.44 -0.69L334.81 0L336.88 0L338.25 -0.69L339.62 -2.07" fill="none" stroke="#000" stroke-width="0.72" stroke-linejoin="round" stroke-linecap="butt"/>
</svg>
</body></html>
